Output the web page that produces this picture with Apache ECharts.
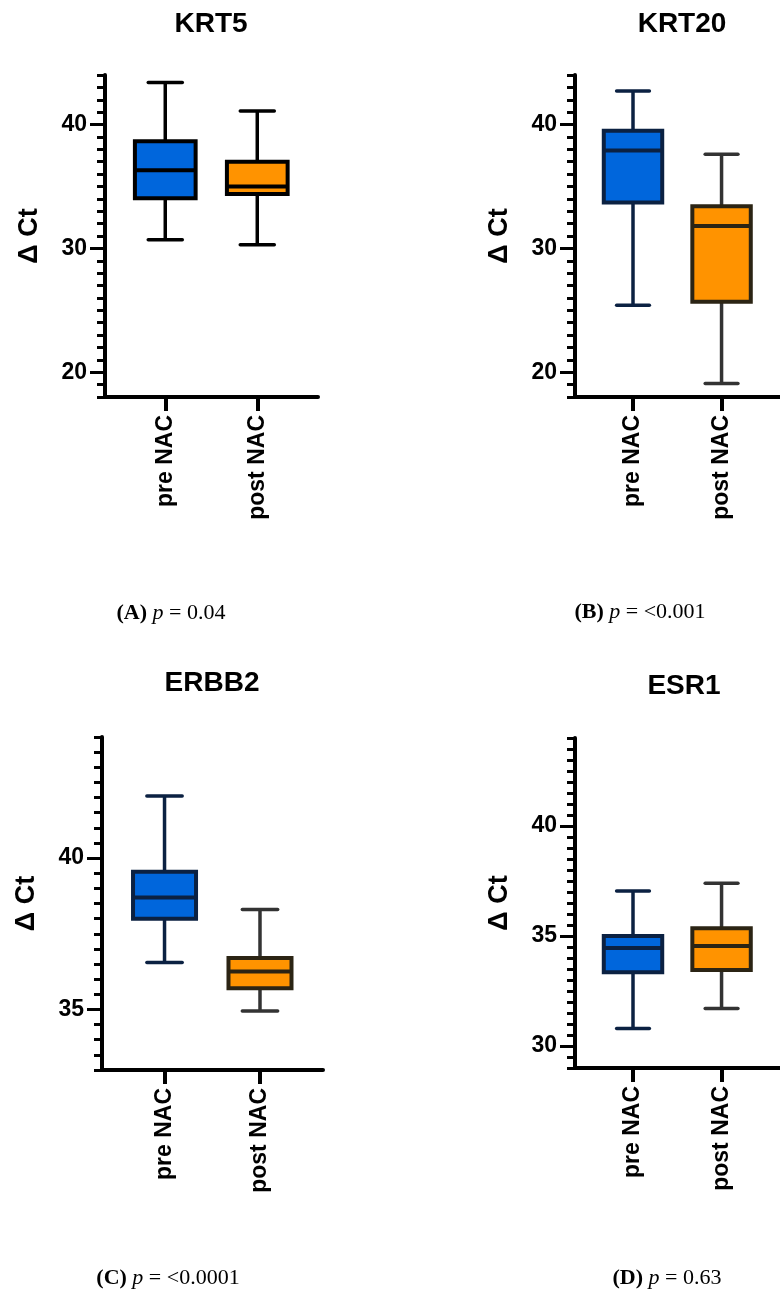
<!DOCTYPE html>
<html>
<head>
<meta charset="utf-8">
<script src="https://cdn.jsdelivr.net/npm/echarts@6/dist/echarts.min.js"></script>
<style>
  html, body { margin: 0; padding: 0; background: #fff; }
  #main { width: 780px; height: 1304px; }
</style>
</head>
<body>
<div id="main"></div>
<script>
// categories
const groups = ['pre NAC', 'post NAC'];
// [whisker low, q1, median, q3, whisker high]
const krt5Pre = [30.7, 34.05, 36.3, 38.65, 43.4];
const krt5Post = [30.3, 34.4, 35.0, 37.0, 41.1];
const krt20Pre = [25.4, 33.7, 37.9, 39.5, 42.7];
const krt20Post = [19.1, 25.7, 31.8, 33.4, 37.6];
const erbb2Pre = [36.55, 38.0, 38.7, 39.55, 42.05];
const erbb2Post = [34.95, 35.7, 36.25, 36.7, 38.3];
const esr1Pre = [30.8, 33.35, 34.45, 35.0, 37.05];
const esr1Post = [31.7, 33.45, 34.55, 35.35, 37.4];
// y axis ticks
const ticksKrt = [20, 30, 40];
const ticksErbb2 = [35, 40];
const ticksEsr1 = [30, 35, 40];

const SANS = '"Liberation Sans", Arial, sans-serif';
const SERIF = '"Liberation Serif", "Times New Roman", serif';
const BLUE = '#0066dc';
const ORANGE = '#ff9300';

const panels = [
  {title: 'KRT5', grid: {left: 105, top: 75, width: 213, height: 322}, min: 18, max: 44, step: 1, ticks: ticksKrt,
    pre: krt5Pre, post: krt5Post, preLine: '#000', postLine: '#000', postWhisker: '#000'},
  {title: 'KRT20', grid: {left: 575, top: 75, width: 212, height: 322}, min: 18, max: 44, step: 1, ticks: ticksKrt,
    pre: krt20Pre, post: krt20Post, preLine: '#0b2142', postLine: '#2b2414', postWhisker: '#333'},
  {title: 'ERBB2', grid: {left: 102, top: 737, width: 221, height: 333}, min: 33, max: 44, step: 0.5, ticks: ticksErbb2,
    pre: erbb2Pre, post: erbb2Post, preLine: '#0b2142', postLine: '#2b2414', postWhisker: '#333'},
  {title: 'ESR1', grid: {left: 575, top: 738, width: 220, height: 330}, min: 29, max: 44, step: 0.5, ticks: ticksEsr1,
    pre: esr1Pre, post: esr1Post, preLine: '#0b2142', postLine: '#2b2414', postWhisker: '#333'}
];

function boxItem(fill, line, whisker) {
  return function (params, api) {
    const x = api.value(0);
    const lo = api.value(1), q1 = api.value(2), med = api.value(3), q3 = api.value(4), hi = api.value(5);
    const hw = 0.33, cw = 0.185;
    const pLo = api.coord([x, lo]);
    const pHi = api.coord([x, hi]);
    const pQ1 = api.coord([x - hw, q1]);
    const pQ3 = api.coord([x + hw, q3]);
    const pMedL = api.coord([x - hw, med]);
    const pMedR = api.coord([x + hw, med]);
    const capL = api.coord([x - cw, lo])[0];
    const capR = api.coord([x + cw, lo])[0];
    const wStyle = {stroke: whisker, lineWidth: 3.5};
    return {
      type: 'group',
      children: [
        {type: 'line', shape: {x1: pLo[0], y1: pLo[1], x2: pLo[0], y2: pQ1[1]}, style: wStyle},
        {type: 'line', shape: {x1: pHi[0], y1: pHi[1], x2: pHi[0], y2: pQ3[1]}, style: wStyle},
        {type: 'line', shape: {x1: capL, y1: pLo[1], x2: capR, y2: pLo[1]}, style: Object.assign({lineCap: 'round'}, wStyle)},
        {type: 'line', shape: {x1: capL, y1: pHi[1], x2: capR, y2: pHi[1]}, style: Object.assign({lineCap: 'round'}, wStyle)},
        {type: 'rect', shape: {x: pQ1[0], y: pQ3[1], width: pQ3[0] - pQ1[0], height: pQ1[1] - pQ3[1]},
          style: {fill: fill, stroke: line, lineWidth: 4}},
        {type: 'line', shape: {x1: pMedL[0], y1: pMedL[1], x2: pMedR[0], y2: pMedR[1]}, style: {stroke: line, lineWidth: 4}}
      ]
    };
  };
}

const grids = [], xAxes = [], yAxes = [], series = [], graphics = [];
panels.forEach(function (p, i) {
  grids.push(Object.assign({containLabel: false}, p.grid));
  xAxes.push({
    type: 'value', gridIndex: i, min: 0.345, max: 2.66,
    splitLine: {show: false},
    axisLine: {show: true, lineStyle: {color: '#000', width: 4}},
    axisTick: {show: true, customValues: [1, 2], length: 14, lineStyle: {color: '#000', width: 4}},
    axisLabel: {
      customValues: [1, 2], rotate: 90, margin: 18, color: '#000',
      fontFamily: SANS, fontWeight: 'bold', fontSize: 23,
      formatter: function (v) { return groups[Math.round(v) - 1]; }
    }
  });
  // minor ticks
  yAxes.push({
    type: 'value', gridIndex: i, position: 'left', min: p.min, max: p.max, interval: p.step,
    splitLine: {show: false},
    axisLine: {show: true, lineStyle: {color: '#000', width: 4}},
    axisTick: {show: true, length: 8, lineStyle: {color: '#000', width: 3}},
    axisLabel: {show: false}
  });
  // major ticks, labels, name
  yAxes.push({
    type: 'value', gridIndex: i, position: 'left', offset: 0, min: p.min, max: p.max, interval: p.step,
    splitLine: {show: false},
    axisLine: {show: false},
    axisTick: {show: true, customValues: p.ticks, length: 15, lineStyle: {color: '#000', width: 3}},
    axisLabel: {
      customValues: p.ticks, margin: 18, color: '#000',
      fontFamily: SANS, fontWeight: 'bold', fontSize: 23
    },
    name: 'Δ Ct', nameLocation: 'middle', nameRotate: 90, nameGap: 62,
    nameTextStyle: {color: '#000', fontFamily: SANS, fontWeight: 'bold', fontSize: 27}
  });
  series.push({
    type: 'custom', xAxisIndex: i, yAxisIndex: i * 2 + 1,
    renderItem: boxItem(BLUE, p.preLine, p.preLine),
    data: [[1].concat(p.pre)]
  });
  series.push({
    type: 'custom', xAxisIndex: i, yAxisIndex: i * 2 + 1,
    renderItem: boxItem(ORANGE, p.postLine, p.postWhisker),
    data: [[2].concat(p.post)]
  });
});

// panel titles
const titlePos = [[211, 24], [682, 24], [212, 683], [684, 686]];
panels.forEach(function (p, i) {
  graphics.push({
    type: 'text', x: titlePos[i][0], y: titlePos[i][1],
    style: {text: p.title, fill: '#000', font: 'bold 28px ' + SANS, align: 'center', verticalAlign: 'middle'}
  });
});

// captions
const captions = [
  {label: '(A)', text: ' = 0.04', x: 171, y: 613},
  {label: '(B)', text: ' = <0.001', x: 640, y: 612},
  {label: '(C)', text: ' = <0.0001', x: 168, y: 1278},
  {label: '(D)', text: ' = 0.63', x: 667, y: 1278}
];
captions.forEach(function (c) {
  graphics.push({
    type: 'text', x: c.x, y: c.y,
    style: {
      text: '{b|' + c.label + '} {i|p}{n|' + c.text + '}',
      align: 'center', verticalAlign: 'middle', fill: '#000',
      fontSize: 22, fontFamily: SERIF,
      rich: {
        b: {fontWeight: 'bold', fontSize: 22, fontFamily: SERIF, fill: '#000'},
        i: {fontStyle: 'italic', fontSize: 22, fontFamily: SERIF, fill: '#000'},
        n: {fontSize: 22, fontFamily: SERIF, fill: '#000'}
      }
    }
  });
});

const chart = echarts.init(document.getElementById('main'), null, {renderer: 'canvas'});
chart.setOption({
  animation: false,
  backgroundColor: '#fff',
  grid: grids,
  xAxis: xAxes,
  yAxis: yAxes,
  series: series,
  graphic: graphics
});
</script>
</body>
</html>
